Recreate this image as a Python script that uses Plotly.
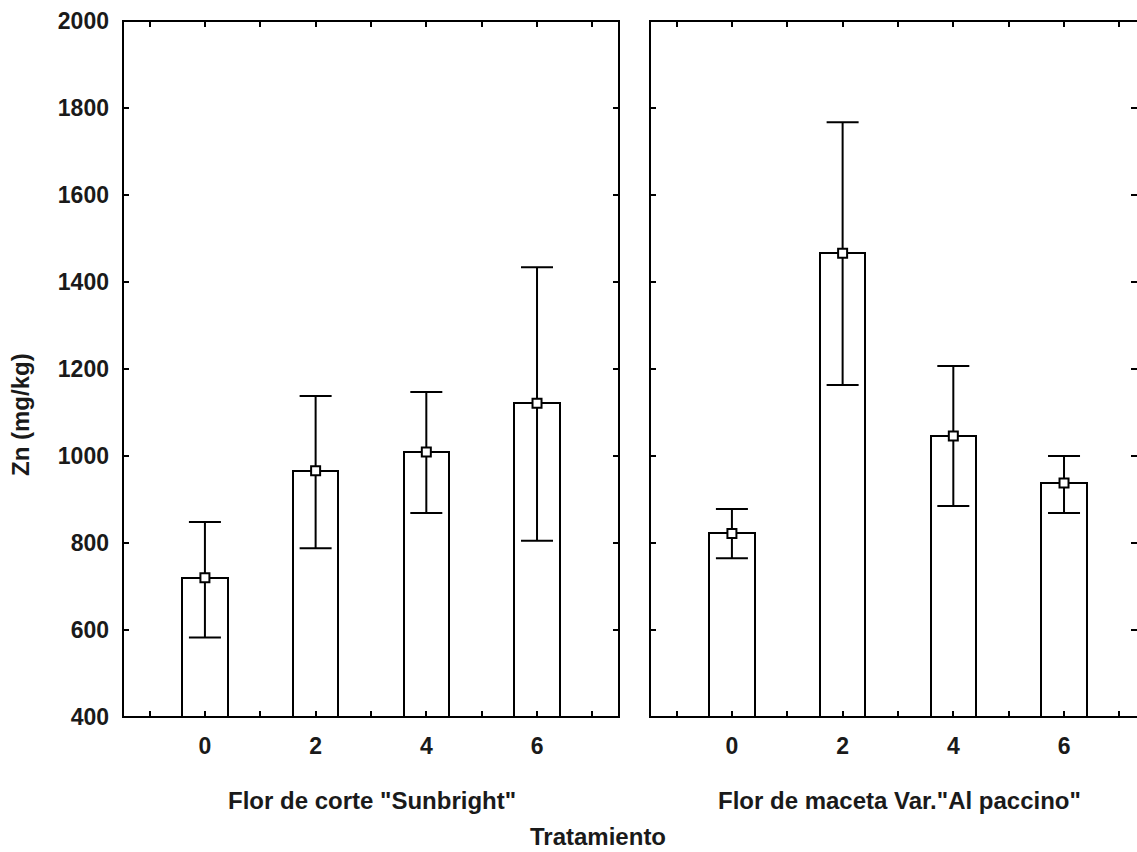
import plotly.graph_objects as go

# Tratamiento levels (shared by both panels)
tratamientos = ["0", "2", "4", "6"]

# Panel 1: Flor de corte "Sunbright" - Zn (mg/kg)
sun_media = [720, 966, 1009, 1121]
sun_sup = [848, 1138, 1147, 1434]
sun_inf = [583, 788, 869, 805]

# Panel 2: Flor de maceta Var."Al paccino" - Zn (mg/kg)
pac_media = [822, 1466, 1046, 938]
pac_sup = [878, 1767, 1207, 1000]
pac_inf = [765, 1163, 885, 869]

panel_titulos = ['Flor de corte "Sunbright"', 'Flor de maceta Var."Al paccino"']
y_titulo = "Zn (mg/kg)"
x_titulo = "Tratamiento"
y_ticks = [400, 600, 800, 1000, 1200, 1400, 1600, 1800, 2000]

FONT = "Liberation Sans, Arial, sans-serif"
TXT = "#1a1a1a"

x_idx = list(range(len(tratamientos)))
minor_vals = [i / 2 for i in range(-1, 2 * len(tratamientos))]
minor_text = [tratamientos[int(v)] if float(v).is_integer() and v >= 0 else "" for v in minor_vals]

fig = go.Figure()

for k, (media, sup, inf) in enumerate([(sun_media, sun_sup, sun_inf), (pac_media, pac_sup, pac_inf)]):
    xa = "x" if k == 0 else "x2"
    ya = "y" if k == 0 else "y2"
    fig.add_trace(go.Bar(
        x=x_idx, y=[m - 400 for m in media], base=400, width=0.41,
        marker=dict(color="white", line=dict(color="black", width=2)),
        xaxis=xa, yaxis=ya, showlegend=False, hoverinfo="skip",
    ))
    fig.add_trace(go.Scatter(
        x=x_idx, y=media, mode="markers",
        marker=dict(symbol="square", size=9, color="white", line=dict(color="black", width=2)),
        error_y=dict(type="data", symmetric=False,
                     array=[s - m for s, m in zip(sup, media)],
                     arrayminus=[m - i for m, i in zip(media, inf)],
                     color="black", thickness=2, width=16),
        xaxis=xa, yaxis=ya, showlegend=False,
    ))

L, R, T, B = 123, 0, 21, 135
W = 1137 - L - R
d1 = (619 - L) / W
d2 = (650 - L) / W
px_per_unit = 110.7
x1_range = [-0.74, -0.74 + (619 - 123) / px_per_unit]
x2_range = [-0.74, -0.74 + (1137 - 650) / px_per_unit]

tick_font = dict(family=FONT, size=23, color=TXT, weight="bold")
xcommon = dict(tickmode="array", tickvals=minor_vals, ticktext=minor_text,
               ticks="inside", ticklen=6, tickwidth=2, tickcolor="black",
               mirror="ticks", showline=False, showgrid=False, zeroline=False,
               ticklabelstandoff=13, tickfont=tick_font)
ycommon = dict(range=[400, 2000], tickvals=y_ticks,
               ticks="inside", ticklen=6, tickwidth=2, tickcolor="black",
               mirror="ticks", showline=False, showgrid=False, zeroline=False,
               tickfont=tick_font)

fig.update_layout(
    margin=dict(l=L, r=R, t=T, b=B),
    paper_bgcolor="white", plot_bgcolor="white",
    bargap=0,
    xaxis=dict(domain=[0, d1], range=x1_range, anchor="y", **xcommon),
    xaxis2=dict(domain=[d2, 1], range=x2_range, anchor="y2", **xcommon),
    yaxis=dict(anchor="x", ticklabelstandoff=13, **ycommon),
    yaxis2=dict(anchor="x2", showticklabels=False, **ycommon),
)

# panel frames
fig.add_shape(type="rect", xref="paper", yref="paper", x0=0, x1=d1, y0=0, y1=1,
              line=dict(color="black", width=2), layer="above")
fig.add_shape(type="rect", xref="paper", yref="paper", x0=d2, x1=(1146 - L) / W, y0=0, y1=1,
              line=dict(color="black", width=2), layer="above")

H = 852 - T - B
def py(pix):
    return (717 - pix) / H

ann_font = dict(family=FONT, size=24, color=TXT, weight="bold")
fig.add_annotation(text=panel_titulos[0], xref="paper", yref="paper",
                   x=(372 - L) / W, y=py(801), showarrow=False, font=ann_font,
                   xanchor="center", yanchor="middle")
fig.add_annotation(text=panel_titulos[1], xref="paper", yref="paper",
                   x=(899 - L) / W, y=py(801), showarrow=False, font=ann_font,
                   xanchor="center", yanchor="middle")
fig.add_annotation(text=x_titulo, xref="paper", yref="paper",
                   x=(598 - L) / W, y=py(836), showarrow=False, font=ann_font,
                   xanchor="center", yanchor="middle")
fig.add_annotation(text=y_titulo, xref="paper", yref="paper",
                   x=(20 - L) / W, y=py(415), showarrow=False, font=ann_font,
                   textangle=-90, xanchor="center", yanchor="middle")

fig.write_html("out.html")
